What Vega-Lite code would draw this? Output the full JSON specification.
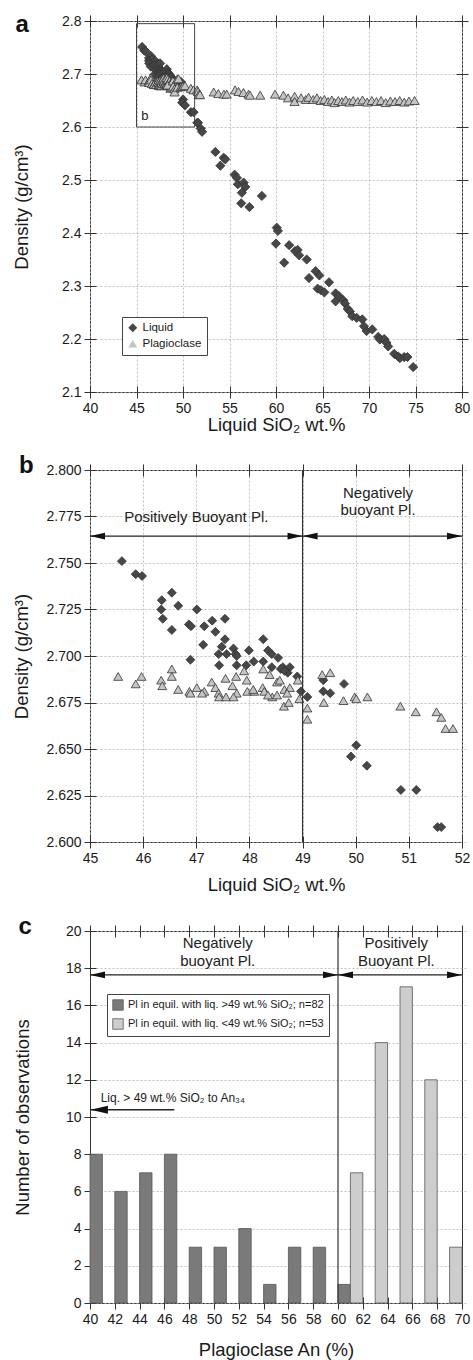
{
  "$schema": "https://vega.github.io/schema/vega-lite/v6.json",
  "padding": {"left": 12, "top": 12, "right": 5, "bottom": 2},
  "spacing": 19,
  "config": {
    "font": "Liberation Sans",
    "view": {"stroke": "#333", "strokeWidth": 1},
    "axis": {
      "labelFont": "Liberation Sans", "titleFont": "Liberation Sans",
      "labelFontSize": 14, "titleFontSize": 18.5, "titleFontWeight": "normal",
      "labelColor": "#1a1a1a", "titleColor": "#1a1a1a",
      "tickColor": "#333", "tickWidth": 1, "tickSize": 12, "offset": -6,
      "domain": false, "labelPadding": 3, "labelFlush": false, "labelOverlap": false,
      "gridColor": "#b0b0b0", "gridDash": [2, 2], "gridWidth": 0.8
    },
    "legend": {"labelFont": "Liberation Sans", "labelColor": "#1a1a1a", "labelLimit": 400},
    "title": {"font": "Liberation Sans", "fontSize": 24, "fontWeight": "bold", "anchor": "start", "frame": "bounds", "baseline": "alphabetic", "color": "#111"}
  },
  "resolve": {"scale": {"fill": "independent", "shape": "independent"}, "legend": {"fill": "independent", "shape": "independent"}},
  "datasets": {
    "pts": [
      {"phase": "Liquid", "sio2": 45.6, "density": 2.751},
      {"phase": "Liquid", "sio2": 45.86, "density": 2.744},
      {"phase": "Liquid", "sio2": 45.98, "density": 2.743},
      {"phase": "Liquid", "sio2": 46.35, "density": 2.730},
      {"phase": "Liquid", "sio2": 46.54, "density": 2.734},
      {"phase": "Liquid", "sio2": 46.34, "density": 2.725},
      {"phase": "Liquid", "sio2": 46.66, "density": 2.727},
      {"phase": "Liquid", "sio2": 46.37, "density": 2.720},
      {"phase": "Liquid", "sio2": 46.54, "density": 2.714},
      {"phase": "Liquid", "sio2": 47.01, "density": 2.725},
      {"phase": "Liquid", "sio2": 46.86, "density": 2.717},
      {"phase": "Liquid", "sio2": 46.90, "density": 2.716},
      {"phase": "Liquid", "sio2": 47.15, "density": 2.716},
      {"phase": "Liquid", "sio2": 47.30, "density": 2.719},
      {"phase": "Liquid", "sio2": 47.36, "density": 2.713},
      {"phase": "Liquid", "sio2": 47.54, "density": 2.720},
      {"phase": "Liquid", "sio2": 47.13, "density": 2.706},
      {"phase": "Liquid", "sio2": 47.54, "density": 2.709},
      {"phase": "Liquid", "sio2": 46.89, "density": 2.698},
      {"phase": "Liquid", "sio2": 47.48, "density": 2.705},
      {"phase": "Liquid", "sio2": 47.42, "density": 2.701},
      {"phase": "Liquid", "sio2": 47.57, "density": 2.701},
      {"phase": "Liquid", "sio2": 47.70, "density": 2.704},
      {"phase": "Liquid", "sio2": 47.74, "density": 2.701},
      {"phase": "Liquid", "sio2": 47.76, "density": 2.700},
      {"phase": "Liquid", "sio2": 47.43, "density": 2.695},
      {"phase": "Liquid", "sio2": 47.76, "density": 2.695},
      {"phase": "Liquid", "sio2": 47.99, "density": 2.703},
      {"phase": "Liquid", "sio2": 47.94, "density": 2.695},
      {"phase": "Liquid", "sio2": 48.08, "density": 2.697},
      {"phase": "Liquid", "sio2": 48.26, "density": 2.709},
      {"phase": "Liquid", "sio2": 48.26, "density": 2.697},
      {"phase": "Liquid", "sio2": 48.35, "density": 2.703},
      {"phase": "Liquid", "sio2": 48.42, "density": 2.701},
      {"phase": "Liquid", "sio2": 48.54, "density": 2.699},
      {"phase": "Liquid", "sio2": 48.63, "density": 2.694},
      {"phase": "Liquid", "sio2": 48.76, "density": 2.694},
      {"phase": "Liquid", "sio2": 48.42, "density": 2.694},
      {"phase": "Liquid", "sio2": 48.59, "density": 2.693},
      {"phase": "Liquid", "sio2": 48.72, "density": 2.691},
      {"phase": "Liquid", "sio2": 48.66, "density": 2.692},
      {"phase": "Liquid", "sio2": 48.90, "density": 2.689},
      {"phase": "Liquid", "sio2": 48.97, "density": 2.681},
      {"phase": "Liquid", "sio2": 49.09, "density": 2.678},
      {"phase": "Liquid", "sio2": 49.39, "density": 2.687},
      {"phase": "Liquid", "sio2": 49.39, "density": 2.681},
      {"phase": "Liquid", "sio2": 49.52, "density": 2.680},
      {"phase": "Liquid", "sio2": 49.78, "density": 2.685},
      {"phase": "Liquid", "sio2": 50.01, "density": 2.652},
      {"phase": "Liquid", "sio2": 49.91, "density": 2.646},
      {"phase": "Liquid", "sio2": 50.21, "density": 2.641},
      {"phase": "Liquid", "sio2": 50.85, "density": 2.628},
      {"phase": "Liquid", "sio2": 51.14, "density": 2.628},
      {"phase": "Liquid", "sio2": 51.54, "density": 2.608},
      {"phase": "Liquid", "sio2": 51.61, "density": 2.608},
      {"phase": "Liquid", "sio2": 51.9, "density": 2.597},
      {"phase": "Liquid", "sio2": 52.05, "density": 2.591},
      {"phase": "Liquid", "sio2": 53.48, "density": 2.553},
      {"phase": "Liquid", "sio2": 54.02, "density": 2.527},
      {"phase": "Liquid", "sio2": 54.37, "density": 2.542},
      {"phase": "Liquid", "sio2": 54.55, "density": 2.539},
      {"phase": "Liquid", "sio2": 55.55, "density": 2.510},
      {"phase": "Liquid", "sio2": 55.8, "density": 2.504},
      {"phase": "Liquid", "sio2": 55.9, "density": 2.492},
      {"phase": "Liquid", "sio2": 56.52, "density": 2.495},
      {"phase": "Liquid", "sio2": 56.7, "density": 2.487},
      {"phase": "Liquid", "sio2": 56.33, "density": 2.476},
      {"phase": "Liquid", "sio2": 58.48, "density": 2.470},
      {"phase": "Liquid", "sio2": 56.26, "density": 2.456},
      {"phase": "Liquid", "sio2": 57.14, "density": 2.449},
      {"phase": "Liquid", "sio2": 60.08, "density": 2.410},
      {"phase": "Liquid", "sio2": 60.2, "density": 2.404},
      {"phase": "Liquid", "sio2": 59.99, "density": 2.380},
      {"phase": "Liquid", "sio2": 60.88, "density": 2.344},
      {"phase": "Liquid", "sio2": 61.41, "density": 2.377},
      {"phase": "Liquid", "sio2": 62.05, "density": 2.366},
      {"phase": "Liquid", "sio2": 62.33, "density": 2.368},
      {"phase": "Liquid", "sio2": 62.48, "density": 2.358},
      {"phase": "Liquid", "sio2": 63.30, "density": 2.350},
      {"phase": "Liquid", "sio2": 63.55, "density": 2.315},
      {"phase": "Liquid", "sio2": 64.26, "density": 2.328},
      {"phase": "Liquid", "sio2": 64.66, "density": 2.320},
      {"phase": "Liquid", "sio2": 64.48, "density": 2.295},
      {"phase": "Liquid", "sio2": 64.84, "density": 2.292},
      {"phase": "Liquid", "sio2": 65.2, "density": 2.288},
      {"phase": "Liquid", "sio2": 65.70, "density": 2.307},
      {"phase": "Liquid", "sio2": 66.41, "density": 2.286},
      {"phase": "Liquid", "sio2": 66.41, "density": 2.271},
      {"phase": "Liquid", "sio2": 66.77, "density": 2.281},
      {"phase": "Liquid", "sio2": 67.24, "density": 2.273},
      {"phase": "Liquid", "sio2": 67.42, "density": 2.267},
      {"phase": "Liquid", "sio2": 67.70, "density": 2.257},
      {"phase": "Liquid", "sio2": 67.95, "density": 2.252},
      {"phase": "Liquid", "sio2": 68.2, "density": 2.243},
      {"phase": "Liquid", "sio2": 68.67, "density": 2.240},
      {"phase": "Liquid", "sio2": 69.28, "density": 2.237},
      {"phase": "Liquid", "sio2": 69.46, "density": 2.224},
      {"phase": "Liquid", "sio2": 69.74, "density": 2.215},
      {"phase": "Liquid", "sio2": 70.35, "density": 2.218},
      {"phase": "Liquid", "sio2": 70.99, "density": 2.204},
      {"phase": "Liquid", "sio2": 71.17, "density": 2.199},
      {"phase": "Liquid", "sio2": 71.63, "density": 2.200},
      {"phase": "Liquid", "sio2": 71.88, "density": 2.193},
      {"phase": "Liquid", "sio2": 72.06, "density": 2.186},
      {"phase": "Liquid", "sio2": 72.71, "density": 2.172},
      {"phase": "Liquid", "sio2": 73.14, "density": 2.167},
      {"phase": "Liquid", "sio2": 73.32, "density": 2.164},
      {"phase": "Liquid", "sio2": 73.78, "density": 2.166},
      {"phase": "Liquid", "sio2": 74.13, "density": 2.166},
      {"phase": "Liquid", "sio2": 74.75, "density": 2.147},
      {"phase": "Plagioclase", "sio2": 45.53, "density": 2.689},
      {"phase": "Plagioclase", "sio2": 45.86, "density": 2.685},
      {"phase": "Plagioclase", "sio2": 45.97, "density": 2.689},
      {"phase": "Plagioclase", "sio2": 46.34, "density": 2.687},
      {"phase": "Plagioclase", "sio2": 46.36, "density": 2.684},
      {"phase": "Plagioclase", "sio2": 46.54, "density": 2.693},
      {"phase": "Plagioclase", "sio2": 46.54, "density": 2.689},
      {"phase": "Plagioclase", "sio2": 46.66, "density": 2.682},
      {"phase": "Plagioclase", "sio2": 46.87, "density": 2.681},
      {"phase": "Plagioclase", "sio2": 47.01, "density": 2.683},
      {"phase": "Plagioclase", "sio2": 46.89, "density": 2.680},
      {"phase": "Plagioclase", "sio2": 47.15, "density": 2.681},
      {"phase": "Plagioclase", "sio2": 47.11, "density": 2.680},
      {"phase": "Plagioclase", "sio2": 47.29, "density": 2.686},
      {"phase": "Plagioclase", "sio2": 47.36, "density": 2.683},
      {"phase": "Plagioclase", "sio2": 47.42, "density": 2.680},
      {"phase": "Plagioclase", "sio2": 47.43, "density": 2.678},
      {"phase": "Plagioclase", "sio2": 47.55, "density": 2.688},
      {"phase": "Plagioclase", "sio2": 47.56, "density": 2.678},
      {"phase": "Plagioclase", "sio2": 47.68, "density": 2.684},
      {"phase": "Plagioclase", "sio2": 47.75, "density": 2.689},
      {"phase": "Plagioclase", "sio2": 47.76, "density": 2.680},
      {"phase": "Plagioclase", "sio2": 47.70, "density": 2.678},
      {"phase": "Plagioclase", "sio2": 47.90, "density": 2.692},
      {"phase": "Plagioclase", "sio2": 47.95, "density": 2.687},
      {"phase": "Plagioclase", "sio2": 47.96, "density": 2.681},
      {"phase": "Plagioclase", "sio2": 48.09, "density": 2.681},
      {"phase": "Plagioclase", "sio2": 48.07, "density": 2.682},
      {"phase": "Plagioclase", "sio2": 48.25, "density": 2.683},
      {"phase": "Plagioclase", "sio2": 48.28, "density": 2.681},
      {"phase": "Plagioclase", "sio2": 48.26, "density": 2.693},
      {"phase": "Plagioclase", "sio2": 48.38, "density": 2.690},
      {"phase": "Plagioclase", "sio2": 48.43, "density": 2.678},
      {"phase": "Plagioclase", "sio2": 48.52, "density": 2.679},
      {"phase": "Plagioclase", "sio2": 48.52, "density": 2.686},
      {"phase": "Plagioclase", "sio2": 48.57, "density": 2.687},
      {"phase": "Plagioclase", "sio2": 48.66, "density": 2.682},
      {"phase": "Plagioclase", "sio2": 48.65, "density": 2.673},
      {"phase": "Plagioclase", "sio2": 48.74, "density": 2.675},
      {"phase": "Plagioclase", "sio2": 48.76, "density": 2.683},
      {"phase": "Plagioclase", "sio2": 48.71, "density": 2.680},
      {"phase": "Plagioclase", "sio2": 48.35, "density": 2.679},
      {"phase": "Plagioclase", "sio2": 48.91, "density": 2.687},
      {"phase": "Plagioclase", "sio2": 48.94, "density": 2.677},
      {"phase": "Plagioclase", "sio2": 49.09, "density": 2.672},
      {"phase": "Plagioclase", "sio2": 49.09, "density": 2.666},
      {"phase": "Plagioclase", "sio2": 49.37, "density": 2.690},
      {"phase": "Plagioclase", "sio2": 49.52, "density": 2.691},
      {"phase": "Plagioclase", "sio2": 49.40, "density": 2.675},
      {"phase": "Plagioclase", "sio2": 49.77, "density": 2.676},
      {"phase": "Plagioclase", "sio2": 49.98, "density": 2.678},
      {"phase": "Plagioclase", "sio2": 50.01, "density": 2.677},
      {"phase": "Plagioclase", "sio2": 50.22, "density": 2.678},
      {"phase": "Plagioclase", "sio2": 50.84, "density": 2.673},
      {"phase": "Plagioclase", "sio2": 51.13, "density": 2.670},
      {"phase": "Plagioclase", "sio2": 51.52, "density": 2.670},
      {"phase": "Plagioclase", "sio2": 51.61, "density": 2.667},
      {"phase": "Plagioclase", "sio2": 51.69, "density": 2.661},
      {"phase": "Plagioclase", "sio2": 51.83, "density": 2.661},
      {"phase": "Plagioclase", "sio2": 53.3, "density": 2.666},
      {"phase": "Plagioclase", "sio2": 53.8, "density": 2.663},
      {"phase": "Plagioclase", "sio2": 54.4, "density": 2.662},
      {"phase": "Plagioclase", "sio2": 54.7, "density": 2.662},
      {"phase": "Plagioclase", "sio2": 55.6, "density": 2.670},
      {"phase": "Plagioclase", "sio2": 55.97, "density": 2.667},
      {"phase": "Plagioclase", "sio2": 56.5, "density": 2.665},
      {"phase": "Plagioclase", "sio2": 57.05, "density": 2.662},
      {"phase": "Plagioclase", "sio2": 57.2, "density": 2.660},
      {"phase": "Plagioclase", "sio2": 58.3, "density": 2.660},
      {"phase": "Plagioclase", "sio2": 59.9, "density": 2.662},
      {"phase": "Plagioclase", "sio2": 60.8, "density": 2.660},
      {"phase": "Plagioclase", "sio2": 61.3, "density": 2.655},
      {"phase": "Plagioclase", "sio2": 62.0, "density": 2.658},
      {"phase": "Plagioclase", "sio2": 62.0, "density": 2.648},
      {"phase": "Plagioclase", "sio2": 62.7, "density": 2.655},
      {"phase": "Plagioclase", "sio2": 63.2, "density": 2.652},
      {"phase": "Plagioclase", "sio2": 63.5, "density": 2.656},
      {"phase": "Plagioclase", "sio2": 64.0, "density": 2.652},
      {"phase": "Plagioclase", "sio2": 64.4, "density": 2.655},
      {"phase": "Plagioclase", "sio2": 64.8, "density": 2.650},
      {"phase": "Plagioclase", "sio2": 65.2, "density": 2.652},
      {"phase": "Plagioclase", "sio2": 65.6, "density": 2.648},
      {"phase": "Plagioclase", "sio2": 66.0, "density": 2.651},
      {"phase": "Plagioclase", "sio2": 66.3, "density": 2.646},
      {"phase": "Plagioclase", "sio2": 66.7, "density": 2.650},
      {"phase": "Plagioclase", "sio2": 67.1, "density": 2.648},
      {"phase": "Plagioclase", "sio2": 67.5, "density": 2.651},
      {"phase": "Plagioclase", "sio2": 67.9, "density": 2.647},
      {"phase": "Plagioclase", "sio2": 68.3, "density": 2.650},
      {"phase": "Plagioclase", "sio2": 68.8, "density": 2.648},
      {"phase": "Plagioclase", "sio2": 69.3, "density": 2.651},
      {"phase": "Plagioclase", "sio2": 69.8, "density": 2.647},
      {"phase": "Plagioclase", "sio2": 70.3, "density": 2.650},
      {"phase": "Plagioclase", "sio2": 70.8, "density": 2.648},
      {"phase": "Plagioclase", "sio2": 71.3, "density": 2.650},
      {"phase": "Plagioclase", "sio2": 71.8, "density": 2.646},
      {"phase": "Plagioclase", "sio2": 72.3, "density": 2.649},
      {"phase": "Plagioclase", "sio2": 72.8, "density": 2.648},
      {"phase": "Plagioclase", "sio2": 73.3, "density": 2.650},
      {"phase": "Plagioclase", "sio2": 73.8, "density": 2.647},
      {"phase": "Plagioclase", "sio2": 74.3, "density": 2.649},
      {"phase": "Plagioclase", "sio2": 74.9, "density": 2.650}
    ],
    "hist": [
      {"an": 40, "an_end": 41, "count": 8, "group": "Pl in equil. with liq. >49 wt.% SiO₂; n=82"},
      {"an": 42, "an_end": 43, "count": 6, "group": "Pl in equil. with liq. >49 wt.% SiO₂; n=82"},
      {"an": 44, "an_end": 45, "count": 7, "group": "Pl in equil. with liq. >49 wt.% SiO₂; n=82"},
      {"an": 46, "an_end": 47, "count": 8, "group": "Pl in equil. with liq. >49 wt.% SiO₂; n=82"},
      {"an": 48, "an_end": 49, "count": 3, "group": "Pl in equil. with liq. >49 wt.% SiO₂; n=82"},
      {"an": 50, "an_end": 51, "count": 3, "group": "Pl in equil. with liq. >49 wt.% SiO₂; n=82"},
      {"an": 52, "an_end": 53, "count": 4, "group": "Pl in equil. with liq. >49 wt.% SiO₂; n=82"},
      {"an": 54, "an_end": 55, "count": 1, "group": "Pl in equil. with liq. >49 wt.% SiO₂; n=82"},
      {"an": 56, "an_end": 57, "count": 3, "group": "Pl in equil. with liq. >49 wt.% SiO₂; n=82"},
      {"an": 58, "an_end": 59, "count": 3, "group": "Pl in equil. with liq. >49 wt.% SiO₂; n=82"},
      {"an": 60, "an_end": 61, "count": 1, "group": "Pl in equil. with liq. >49 wt.% SiO₂; n=82"},
      {"an": 61, "an_end": 62, "count": 7, "group": "Pl in equil. with liq. <49 wt.% SiO₂; n=53"},
      {"an": 63, "an_end": 64, "count": 14, "group": "Pl in equil. with liq. <49 wt.% SiO₂; n=53"},
      {"an": 65, "an_end": 66, "count": 17, "group": "Pl in equil. with liq. <49 wt.% SiO₂; n=53"},
      {"an": 67, "an_end": 68, "count": 12, "group": "Pl in equil. with liq. <49 wt.% SiO₂; n=53"},
      {"an": 69, "an_end": 70, "count": 3, "group": "Pl in equil. with liq. <49 wt.% SiO₂; n=53"}
    ]
  },
  "vconcat": [
    {
      "width": 372, "height": 371,
      "title": {"text": "a", "offset": -23, "dx": 3},
      "resolve": {"axis": {"x": "independent", "y": "independent"}},
      "layer": [
        {
          "data": {"name": "pts"},
          "mark": {"type": "point", "filled": true, "size": 85, "opacity": 1, "stroke": "#333", "strokeWidth": 0.8},
          "encoding": {
            "x": {"field": "sio2", "type": "quantitative", "scale": {"domain": [40, 80], "nice": false, "zero": false},
                  "axis": {"orient": "bottom", "title": "Liquid SiO₂ wt.%", "values": [40, 45, 50, 55, 60, 65, 70, 75, 80], "grid": true, "titlePadding": 0}},
            "y": {"field": "density", "type": "quantitative", "scale": {"domain": [2.1, 2.8], "nice": false, "zero": false},
                  "axis": {"orient": "left", "title": "Density (g/cm³)", "values": [2.1, 2.2, 2.3, 2.4, 2.5, 2.6, 2.7, 2.8], "format": ".1f", "grid": true, "titlePadding": 30}},
            "fill": {"field": "phase", "type": "nominal", "scale": {"domain": ["Liquid", "Plagioclase"], "range": ["#474747", "#c4c4c4"]},
                     "legend": {"title": null, "orient": "none", "legendX": 32, "legendY": 296, "strokeColor": "#444", "fillColor": "#fff", "padding": 5, "labelFontSize": 11.5, "rowPadding": 3, "symbolSize": 80, "symbolStrokeColor": "#333", "symbolStrokeWidth": 0.8}},
            "shape": {"field": "phase", "type": "nominal", "scale": {"domain": ["Liquid", "Plagioclase"], "range": ["diamond", "triangle-up"]},
                      "legend": {"title": null, "orient": "none", "legendX": 32, "legendY": 296, "strokeColor": "#444", "fillColor": "#fff", "padding": 5, "labelFontSize": 11.5, "rowPadding": 3, "symbolSize": 80, "symbolStrokeColor": "#333", "symbolStrokeWidth": 0.8}}
          }
        },
        {
          "data": {"values": [{"x1": 45, "x2": 51.25, "y1": 2.6, "y2": 2.795}]},
          "mark": {"type": "rect", "fill": null, "fillOpacity": 0, "stroke": "#444", "strokeWidth": 1},
          "encoding": {
            "x": {"field": "x1", "type": "quantitative", "axis": {"orient": "top", "labels": false, "title": null, "grid": false, "values": [40, 45, 50, 55, 60, 65, 70, 75, 80]}},
            "x2": {"field": "x2"},
            "y": {"field": "y1", "type": "quantitative", "axis": {"orient": "right", "labels": false, "title": null, "grid": false, "values": [2.1, 2.2, 2.3, 2.4, 2.5, 2.6, 2.7, 2.8]}},
            "y2": {"field": "y2"}
          }
        },
        {
          "data": {"values": [{"x": 45.5, "y": 2.614, "label": "b"}]},
          "mark": {"type": "text", "align": "left", "baseline": "alphabetic", "fontSize": 13, "color": "#222"},
          "encoding": {
            "x": {"field": "x", "type": "quantitative", "axis": null},
            "y": {"field": "y", "type": "quantitative", "axis": null},
            "text": {"field": "label"}
          }
        }
      ]
    },
    {
      "spacing": 20,
      "resolve": {"scale": {"fill": "independent", "shape": "independent"}, "legend": {"fill": "independent", "shape": "independent"}},
      "vconcat": [
        {
          "width": 372, "height": 372,
          "title": {"text": "b", "offset": -15, "dx": 6},
          "resolve": {"axis": {"x": "independent", "y": "independent"}},
          "layer": [
            {
              "data": {"name": "pts"},
              "transform": [{"filter": "datum.sio2 >= 45 && datum.sio2 <= 52 && datum.density >= 2.6 && datum.density <= 2.8"}],
              "mark": {"type": "point", "filled": true, "size": 80, "opacity": 1, "stroke": "#333", "strokeWidth": 0.8},
              "encoding": {
                "x": {"field": "sio2", "type": "quantitative", "scale": {"domain": [45, 52], "nice": false, "zero": false},
                      "axis": {"orient": "bottom", "title": "Liquid SiO₂ wt.%", "values": [45, 46, 47, 48, 49, 50, 51, 52], "grid": true, "titlePadding": 10}},
                "y": {"field": "density", "type": "quantitative", "scale": {"domain": [2.6, 2.8], "nice": false, "zero": false},
                      "axis": {"orient": "left", "title": "Density (g/cm³)", "values": [2.6, 2.625, 2.65, 2.675, 2.7, 2.725, 2.75, 2.775, 2.8], "format": ".3f", "grid": true, "titlePadding": 14}},
                "fill": {"field": "phase", "type": "nominal", "scale": {"domain": ["Liquid", "Plagioclase"], "range": ["#474747", "#c4c4c4"]}, "legend": null},
                "shape": {"field": "phase", "type": "nominal", "scale": {"domain": ["Liquid", "Plagioclase"], "range": ["diamond", "triangle-up"]}, "legend": null}
              }
            },
            {
              "data": {"values": [{"x": 49}]},
              "mark": {"type": "rule", "color": "#333", "strokeWidth": 1.2},
              "encoding": {
                "x": {"field": "x", "type": "quantitative", "axis": {"orient": "top", "labels": false, "title": null, "grid": false, "values": [45, 46, 47, 48, 49, 50, 51, 52]}}
              }
            },
            {
              "data": {"values": [{"x1": 45, "x2": 49, "y": 2.7645}, {"x1": 49, "x2": 52, "y": 2.7645}]},
              "layer": [
                {
                  "mark": {"type": "rule", "color": "#222", "strokeWidth": 1.3},
                  "encoding": {
                    "x": {"field": "x1", "type": "quantitative", "axis": null},
                    "x2": {"field": "x2"},
                    "y": {"field": "y", "type": "quantitative", "axis": {"orient": "right", "labels": false, "title": null, "grid": false, "values": [2.6, 2.625, 2.65, 2.675, 2.7, 2.725, 2.75, 2.775, 2.8]}}
                  }
                },
                {
                  "mark": {"type": "point", "shape": "M0,0L2,-0.45L2,0.45Z", "filled": true, "color": "#111", "size": 225, "opacity": 1},
                  "encoding": {
                    "x": {"field": "x1", "type": "quantitative", "axis": null},
                    "y": {"field": "y", "type": "quantitative", "axis": null}
                  }
                },
                {
                  "mark": {"type": "point", "shape": "M0,0L-2,-0.45L-2,0.45Z", "filled": true, "color": "#111", "size": 225, "opacity": 1},
                  "encoding": {
                    "x": {"field": "x2", "type": "quantitative", "axis": null},
                    "y": {"field": "y", "type": "quantitative", "axis": null}
                  }
                }
              ]
            },
            {
              "data": {"values": [{"x": 47.0, "y": 2.7749, "label": "Positively Buoyant Pl."}, {"x": 50.42, "y": 2.7874, "label": "Negatively\nbuoyant Pl."}]},
              "mark": {"type": "text", "align": "center", "baseline": "middle", "fontSize": 15, "lineHeight": 17, "lineBreak": "\n", "color": "#222"},
              "encoding": {
                "x": {"field": "x", "type": "quantitative", "axis": null},
                "y": {"field": "y", "type": "quantitative", "axis": null},
                "text": {"field": "label"}
              }
            }
          ]
        },
        {
          "width": 372, "height": 372,
          "title": {"text": "c", "offset": -15, "dx": 5},
          "resolve": {"axis": {"x": "independent", "y": "independent"}},
          "layer": [
            {
              "data": {"name": "hist"},
              "mark": {"type": "rect", "stroke": "#555", "strokeWidth": 0.8},
              "encoding": {
                "x": {"field": "an", "type": "quantitative", "scale": {"domain": [40, 70], "nice": false, "zero": false},
                      "axis": {"orient": "bottom", "title": "Plagioclase An (%)", "values": [40, 42, 44, 46, 48, 50, 52, 54, 56, 58, 60, 62, 64, 66, 68, 70], "grid": false, "titlePadding": 14}},
                "x2": {"field": "an_end"},
                "y": {"field": "count", "type": "quantitative", "scale": {"domain": [0, 20], "nice": false},
                      "axis": {"orient": "left", "title": "Number of observations", "values": [0, 2, 4, 6, 8, 10, 12, 14, 16, 18, 20], "grid": true, "titlePadding": 33}},
                "y2": {"datum": 0},
                "fill": {"field": "group", "type": "nominal",
                         "scale": {"domain": ["Pl in equil. with liq. >49 wt.% SiO₂; n=82", "Pl in equil. with liq. <49 wt.% SiO₂; n=53"], "range": ["#7a7a7a", "#cdcdcd"]},
                         "legend": {"title": null, "orient": "none", "legendX": 17, "legendY": 63, "strokeColor": "#444", "fillColor": "#fff", "padding": 5, "labelFontSize": 11, "rowPadding": 5, "symbolType": "square", "symbolSize": 110, "symbolStrokeColor": "#555", "symbolStrokeWidth": 0.8, "labelLimit": 400}}
              }
            },
            {
              "data": {"values": [{"x": 60}]},
              "mark": {"type": "rule", "color": "#333", "strokeWidth": 1.2},
              "encoding": {
                "x": {"field": "x", "type": "quantitative", "axis": {"orient": "top", "labels": false, "title": null, "grid": false, "values": [40, 42, 44, 46, 48, 50, 52, 54, 56, 58, 60, 62, 64, 66, 68, 70]}}
              }
            },
            {
              "data": {"values": [{"x1": 40, "x2": 60, "y": 17.64}, {"x1": 60, "x2": 70, "y": 17.64}]},
              "layer": [
                {
                  "mark": {"type": "rule", "color": "#222", "strokeWidth": 1.3},
                  "encoding": {
                    "x": {"field": "x1", "type": "quantitative", "axis": null},
                    "x2": {"field": "x2"},
                    "y": {"field": "y", "type": "quantitative", "axis": {"orient": "right", "labels": false, "title": null, "grid": false, "values": [0, 2, 4, 6, 8, 10, 12, 14, 16, 18, 20]}}
                  }
                },
                {
                  "mark": {"type": "point", "shape": "M0,0L2,-0.45L2,0.45Z", "filled": true, "color": "#111", "size": 225, "opacity": 1},
                  "encoding": {
                    "x": {"field": "x1", "type": "quantitative", "axis": null},
                    "y": {"field": "y", "type": "quantitative", "axis": null}
                  }
                },
                {
                  "mark": {"type": "point", "shape": "M0,0L-2,-0.45L-2,0.45Z", "filled": true, "color": "#111", "size": 225, "opacity": 1},
                  "encoding": {
                    "x": {"field": "x2", "type": "quantitative", "axis": null},
                    "y": {"field": "y", "type": "quantitative", "axis": null}
                  }
                }
              ]
            },
            {
              "data": {"values": [{"x1": 40.05, "x2": 46.8, "y": 10.39}]},
              "layer": [
                {
                  "mark": {"type": "rule", "color": "#222", "strokeWidth": 1.6},
                  "encoding": {
                    "x": {"field": "x1", "type": "quantitative", "axis": null},
                    "x2": {"field": "x2"},
                    "y": {"field": "y", "type": "quantitative", "axis": null}
                  }
                },
                {
                  "mark": {"type": "point", "shape": "M0,0L2,-0.45L2,0.45Z", "filled": true, "color": "#111", "size": 300, "opacity": 1},
                  "encoding": {
                    "x": {"field": "x1", "type": "quantitative", "axis": null},
                    "y": {"field": "y", "type": "quantitative", "axis": null}
                  }
                }
              ]
            },
            {
              "data": {"values": [
                {"x": 50.3, "y": 19.33, "label": "Negatively\nbuoyant Pl."},
                {"x": 64.7, "y": 19.33, "label": "Positively\nBuoyant Pl."}
              ]},
              "mark": {"type": "text", "align": "center", "baseline": "middle", "fontSize": 15, "lineHeight": 18, "lineBreak": "\n", "color": "#222"},
              "encoding": {
                "x": {"field": "x", "type": "quantitative", "axis": null},
                "y": {"field": "y", "type": "quantitative", "axis": null},
                "text": {"field": "label"}
              }
            },
            {
              "data": {"values": [{"x": 40.86, "y": 11.01, "label": "Liq. > 49 wt.% SiO₂ to An₃₄"}]},
              "mark": {"type": "text", "align": "left", "baseline": "middle", "fontSize": 12, "color": "#222"},
              "encoding": {
                "x": {"field": "x", "type": "quantitative", "axis": null},
                "y": {"field": "y", "type": "quantitative", "axis": null},
                "text": {"field": "label"}
              }
            }
          ]
        }
      ]
    }
  ]
}
